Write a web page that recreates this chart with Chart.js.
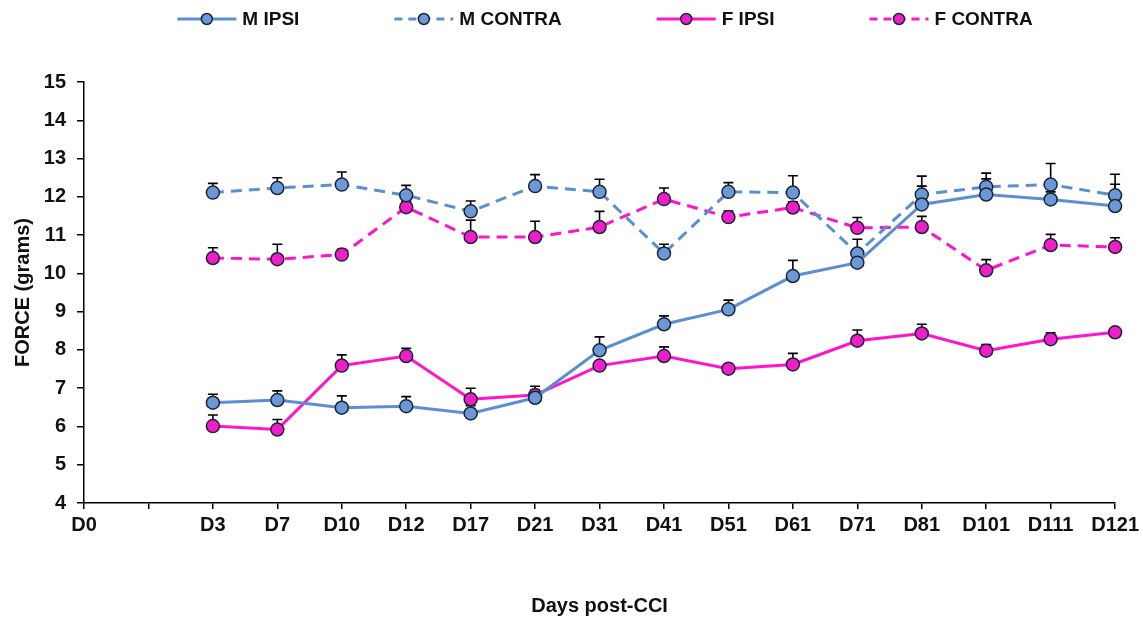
<!DOCTYPE html>
<html>
<head>
<meta charset="utf-8">
<script src="https://cdn.jsdelivr.net/npm/chart.js@4"></script>
<style>
  html, body { margin: 0; padding: 0; background: #fff; }
  #wrap { width: 1143px; height: 620px; }
</style>
</head>
<body>
<div id="wrap"><canvas id="forceChart" width="1143" height="620"></canvas></div>
<script>
const days = ["D0", "", "D3", "D7", "D10", "D12", "D17", "D21", "D31", "D41", "D51", "D61", "D71", "D81", "D101", "D111", "D121"];

const mIpsi      = [null, null, 6.62, 6.69, 6.49, 6.53, 6.34, 6.75, 7.99, 8.67, 9.06, 9.93, 10.28, 11.80, 12.06, 11.93, 11.76];
const mIpsiErr   = [null, null, 0.22, 0.24, 0.31, 0.25, 0.20, 0.20, 0.35, 0.22, 0.24, 0.41, 0.20, 0.48, 0.41, 0.20, 0.57];
const mContra    = [null, null, 12.11, 12.23, 12.32, 12.04, 11.62, 12.28, 12.13, 10.52, 12.13, 12.11, 10.52, 12.06, 12.26, 12.32, 12.04];
const mContraErr = [null, null, 0.24, 0.27, 0.33, 0.26, 0.27, 0.30, 0.33, 0.24, 0.24, 0.44, 0.37, 0.48, 0.36, 0.55, 0.55];
const fIpsi      = [null, null, 6.01, 5.92, 7.59, 7.84, 6.71, 6.82, 7.59, 7.84, 7.51, 7.62, 8.24, 8.43, 7.98, 8.28, 8.46];
const fIpsiErr   = [null, null, 0.29, 0.26, 0.28, 0.20, 0.29, 0.23, 0.10, 0.24, 0.08, 0.29, 0.28, 0.24, 0.16, 0.17, 0.10];
const fContra    = [null, null, 10.40, 10.37, 10.49, 11.73, 10.95, 10.95, 11.21, 11.94, 11.47, 11.72, 11.19, 11.21, 10.08, 10.74, 10.69];
const fContraErr = [null, null, 0.27, 0.39, 0.14, 0.15, 0.44, 0.41, 0.41, 0.29, 0.16, 0.15, 0.27, 0.28, 0.28, 0.28, 0.24];

const yTicks = [4, 5, 6, 7, 8, 9, 10, 11, 12, 13, 14, 15];

const BLUE = "#5b8fd1";
const BLUE_PT = "#6b98d6";
const PINK = "#ff14cc";
const PINK_PT = "#f01ec8";
const DARK = "#1c2638";
const FONT = "'Liberation Sans', Arial, sans-serif";

function series(label, data, errs, line, fill, dashed) {
  return {
    label: label,
    data: data,
    errors: errs,
    borderColor: line,
    backgroundColor: fill,
    borderWidth: 3,
    borderDash: dashed ? [11, 7] : [],
    pointRadius: 6.5,
    pointBorderWidth: 1.5,
    pointBorderColor: DARK,
    pointBackgroundColor: fill,
    pointHoverRadius: 6.5,
    tension: 0,
    clip: false,
    spanGaps: false
  };
}

// upward-only error bars with caps
const errorBars = {
  id: "errorBars",
  beforeDatasetsDraw(chart) {
    const ctx = chart.ctx;
    const y = chart.scales.y;
    ctx.save();
    ctx.strokeStyle = "#000";
    ctx.lineWidth = 1.6;
    chart.data.datasets.forEach((ds, i) => {
      const meta = chart.getDatasetMeta(i);
      meta.data.forEach((pt, j) => {
        const v = ds.data[j], e = ds.errors[j];
        if (v == null || !e) return;
        const top = y.getPixelForValue(v + e);
        ctx.beginPath();
        ctx.moveTo(pt.x, pt.y);
        ctx.lineTo(pt.x, top);
        ctx.moveTo(pt.x - 5, top);
        ctx.lineTo(pt.x + 5, top);
        ctx.stroke();
      });
    });
    ctx.restore();
  }
};

// legend: line with marker in the middle, then label
const lineLegend = {
  id: "lineLegend",
  afterDraw(chart) {
    const ctx = chart.ctx;
    const sets = chart.data.datasets;
    const lineLen = 59, gap = 6, itemGap = 95, yMid = 19;
    ctx.save();
    ctx.font = "bold 19px " + FONT;
    const widths = sets.map(ds => lineLen + gap + ctx.measureText(ds.label).width);
    const total = widths.reduce((a, b) => a + b, 0) + itemGap * (sets.length - 1);
    let x = 605 - total / 2;
    sets.forEach((ds, i) => {
      ctx.strokeStyle = ds.borderColor;
      ctx.lineWidth = 3;
      ctx.setLineDash(ds.borderDash.length ? [8, 6] : []);
      ctx.beginPath();
      ctx.moveTo(x, yMid);
      ctx.lineTo(x + lineLen, yMid);
      ctx.stroke();
      ctx.setLineDash([]);
      ctx.beginPath();
      ctx.arc(x + lineLen / 2, yMid, 5.5, 0, Math.PI * 2);
      ctx.fillStyle = ds.pointBackgroundColor;
      ctx.fill();
      ctx.lineWidth = 1.5;
      ctx.strokeStyle = DARK;
      ctx.stroke();
      ctx.fillStyle = "#111";
      ctx.textBaseline = "middle";
      ctx.fillText(ds.label, x + lineLen + gap, yMid + 1);
      x += widths[i] + itemGap;
    });
    ctx.restore();
  }
};

const ctx = document.getElementById("forceChart").getContext("2d");
new Chart(ctx, {
  type: "line",
  data: {
    labels: days,
    datasets: [
      series("M IPSI", mIpsi, mIpsiErr, BLUE, BLUE_PT, false),
      series("M CONTRA", mContra, mContraErr, BLUE, BLUE_PT, true),
      series("F IPSI", fIpsi, fIpsiErr, PINK, PINK_PT, false),
      series("F CONTRA", fContra, fContraErr, PINK, PINK_PT, true)
    ]
  },
  options: {
    responsive: false,
    animation: false,
    events: [],
    layout: { padding: { top: 82, right: 27, left: 0, bottom: 0 } },
    plugins: {
      legend: { display: false },
      tooltip: { enabled: false }
    },
    scales: {
      x: {
        offset: false,
        grid: { drawOnChartArea: false, drawTicks: true, tickLength: 6, color: "#000", lineWidth: 1.5 },
        border: { color: "#000", width: 1.5 },
        ticks: {
          color: "#111",
          font: { family: FONT, size: 20, weight: "bold" },
          padding: 4,
          maxRotation: 0,
          autoSkip: false
        },
        title: {
          display: true,
          text: "Days post-CCI",
          color: "#111",
          font: { family: FONT, size: 20, weight: "bold" },
          padding: { top: 0, bottom: 2 }
        },
        afterFit(scale) { scale.height = 117; }
      },
      y: {
        min: 4,
        max: 15,
        afterBuildTicks(scale) { scale.ticks = yTicks.map(v => ({ value: v })); },
        grid: { drawOnChartArea: false, drawTicks: true, tickLength: 7, color: "#000", lineWidth: 1.5 },
        border: { color: "#000", width: 1.5 },
        ticks: {
          color: "#111",
          font: { family: FONT, size: 20, weight: "bold" },
          padding: 11
        },
        title: {
          display: true,
          text: "FORCE (grams)",
          color: "#111",
          font: { family: FONT, size: 20, weight: "bold" },
          padding: { top: 11, bottom: 0 }
        },
        afterFit(scale) { scale.width = 84; }
      }
    }
  },
  plugins: [errorBars, lineLegend]
});
</script>
</body>
</html>
